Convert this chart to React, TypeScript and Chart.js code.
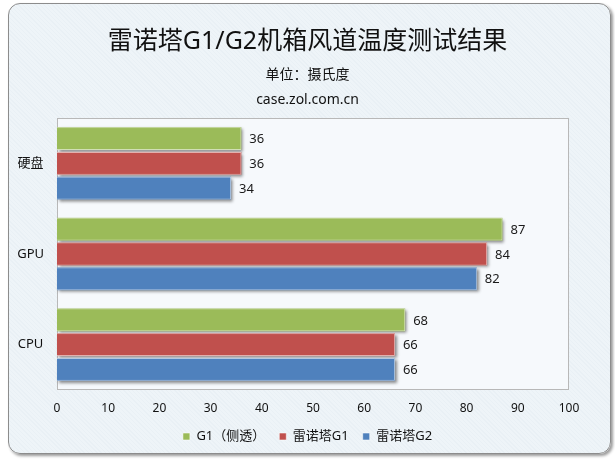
import React, { useEffect, useRef } from 'react';
import { Chart, registerables } from 'chart.js';

Chart.register(...registerables);

const categories = ['硬盘', 'GPU', 'CPU'];
const seriesNames = ['G1（侧透）', '雷诺塔G1', '雷诺塔G2'];
const g1SideValues = [36, 87, 68];
const renoG1Values = [36, 84, 66];
const renoG2Values = [34, 82, 66];
const seriesColors = ['#9bbb59', '#c0504d', '#4f81bd'];
const titleText = '雷诺塔G1/G2机箱风道温度测试结果';
const subtitleLines = ['单位：摄氏度', 'case.zol.com.cn'];
const xMin = 0;
const xMax = 100;
const xStep = 10;

const FONT = '"Noto Sans", "Noto Sans CJK SC", sans-serif';

const plotDecor = {
  id: 'plotDecor',
  beforeDatasetsDraw(chart: any) {
    const { ctx, chartArea: a } = chart;
    ctx.save();
    ctx.fillStyle = '#f6f9fc';
    ctx.fillRect(a.left, a.top, a.right - a.left, a.bottom - a.top);
    ctx.strokeStyle = '#b8b8b8';
    ctx.lineWidth = 1;
    ctx.strokeRect(a.left + 0.5, a.top + 0.5, a.right - a.left - 1, a.bottom - a.top - 1);
    chart.data.datasets.forEach((ds: any, i: number) => {
      const meta = chart.getDatasetMeta(i);
      meta.data.forEach((el: any) => {
        const p = el.getProps(['x', 'y', 'base', 'height'], true);
        ctx.save();
        ctx.shadowColor = 'rgba(0,0,0,0.45)';
        ctx.shadowOffsetX = 2;
        ctx.shadowOffsetY = 2;
        ctx.shadowBlur = 3;
        ctx.fillStyle = ds.backgroundColor;
        ctx.fillRect(p.base, p.y - p.height / 2, p.x - p.base, p.height);
        ctx.restore();
      });
    });
    ctx.restore();
  },
};

const valueLabels = {
  id: 'valueLabels',
  afterDatasetsDraw(chart: any) {
    const { ctx } = chart;
    ctx.save();
    ctx.font = `13px ${FONT}`;
    ctx.fillStyle = '#1a1a1a';
    ctx.textAlign = 'left';
    ctx.textBaseline = 'middle';
    chart.data.datasets.forEach((ds: any, i: number) => {
      const meta = chart.getDatasetMeta(i);
      meta.data.forEach((el: any, j: number) => {
        const p = el.getProps(['x', 'y'], true);
        ctx.fillText(String(ds.data[j]), p.x + 8, p.y + 1);
      });
    });
    ctx.restore();
  },
};

export default function App() {
  const canvasRef = useRef<HTMLCanvasElement | null>(null);

  useEffect(() => {
    if (!canvasRef.current) return;
    const chart = new Chart(canvasRef.current, {
      type: 'bar',
      data: {
        labels: categories,
        datasets: [
          { label: seriesNames[0], data: g1SideValues, backgroundColor: seriesColors[0] },
          { label: seriesNames[1], data: renoG1Values, backgroundColor: seriesColors[1] },
          { label: seriesNames[2], data: renoG2Values, backgroundColor: seriesColors[2] },
        ],
      },
      options: {
        indexAxis: 'y',
        responsive: false,
        animation: false,
        devicePixelRatio: 1,
        layout: { padding: { left: 8, right: 8, top: 0, bottom: 11 } },
        datasets: {
          bar: {
            categoryPercentage: 0.82,
            barPercentage: 0.92,
            borderWidth: 1,
            borderColor: 'rgba(255,255,255,0.55)',
            borderSkipped: 'start',
          },
        },
        scales: {
          x: {
            type: 'linear',
            min: xMin,
            max: xMax,
            ticks: { stepSize: xStep, padding: 11, color: '#111', font: { family: FONT, size: 12 } },
            grid: { display: false, drawTicks: false },
            border: { display: false },
            afterFit: (s: any) => { s.height = 26; },
          },
          y: {
            type: 'category',
            position: 'left',
            ticks: { crossAlign: 'center', padding: 13, color: '#111', font: { family: FONT, size: 13 } },
            grid: { display: false, drawTicks: false },
            border: { display: false },
            afterFit: (s: any) => { s.width = 49; },
          },
          yRight: {
            type: 'category',
            position: 'right',
            ticks: { display: false },
            grid: { display: false, drawTicks: false },
            border: { display: false },
            afterFit: (s: any) => { s.width = 38; },
          },
        },
        plugins: {
          title: {
            display: true,
            text: titleText,
            color: '#111',
            font: { family: FONT, size: 25, weight: 'normal', lineHeight: 1.2 },
            padding: { top: 27, bottom: 0 },
          },
          subtitle: {
            display: true,
            text: subtitleLines,
            color: '#111',
            font: { family: FONT, size: 14, weight: 'normal', lineHeight: 25 / 14 },
            padding: { top: 5.5, bottom: 5.5 },
          },
          legend: {
            position: 'bottom',
            labels: {
              boxWidth: 7,
              boxHeight: 7,
              padding: 14,
              color: '#111',
              font: { family: FONT, size: 13 },
            },
          },
          tooltip: { enabled: false },
        },
      } as any,
      plugins: [plotDecor, valueLabels],
    });
    return () => chart.destroy();
  }, []);

  return (
    <div style={{ position: 'fixed', left: 0, top: 0, width: 615, height: 464, background: '#ffffff', overflow: 'hidden' }}>
      <div
        style={{
          position: 'absolute',
          left: 8,
          top: 3,
          width: 601,
          height: 449,
          border: '1px solid #8c8c8c',
          borderRadius: 12,
          boxShadow: '2px 2px 3px rgba(0,0,0,0.4)',
          background: 'repeating-linear-gradient(45deg, #eef4f8 0px, #eef4f8 2px, #e9f0f5 2px, #e9f0f5 3px)',
        }}
      />
      <canvas ref={canvasRef} width={615} height={464} style={{ position: 'absolute', left: 0, top: 0, width: 615, height: 464 }} />
    </div>
  );
}
